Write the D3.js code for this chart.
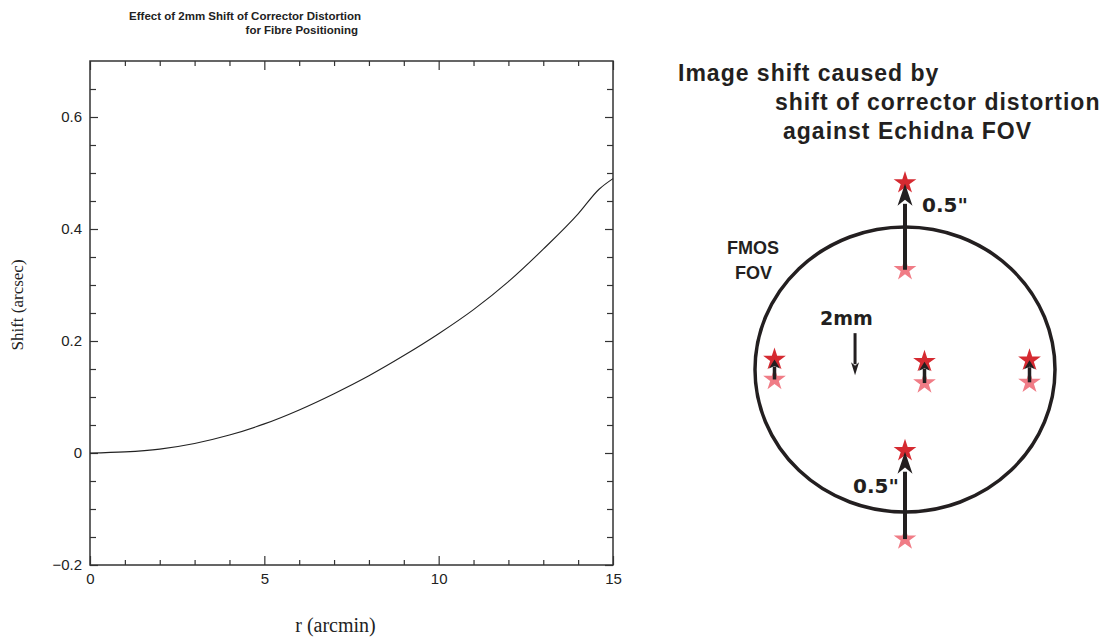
<!DOCTYPE html>
<html>
<head>
<meta charset="utf-8">
<script src="https://cdn.jsdelivr.net/npm/d3@7"></script>
<style>
  body { margin: 0; background: #fff; }
  .tick text { font-family: "Liberation Sans", Arial, sans-serif; font-size: 15px; fill: #222; }
  .tick line { stroke: #333; stroke-width: 1.2; }
  .axisText { font-family: "Liberation Serif", "Times New Roman", serif; fill: #222; }
  .plotTitle { font-family: "Liberation Sans", Arial, sans-serif; font-size: 11.5px; font-weight: bold; fill: #222; }
  .diagText { font-family: "DejaVu Sans", sans-serif; font-weight: bold; fill: #231f20; }
  .diagTitle { font-family: "Liberation Sans", Arial, sans-serif; font-weight: bold; font-size: 23px; letter-spacing: 1px; fill: #231f20; }
</style>
</head>
<body>
<div id="chart"></div>
<script>
// curve: shift (arcsec) vs r (arcmin)
var rValues = [0, 1, 2, 3, 4, 5, 6, 7, 8, 9, 10, 11, 12, 13, 14, 14.6, 15];
var shiftValues = [0, 0.002, 0.007, 0.017, 0.032, 0.052, 0.077, 0.106, 0.138, 0.174, 0.213, 0.256, 0.306, 0.364, 0.427, 0.471, 0.490];
var xMajorTicks = [0, 5, 10, 15];
var yMajorTicks = [-0.2, 0, 0.2, 0.4, 0.6];

// diagram: fibre positions in FOV units (circle radius = 1), and the image shift
var starNames = ["top", "left", "centre", "right", "bottom"];
var starX = [0, -0.87, 0.13, 0.83, 0];
var starY = [0.70, -0.07, -0.095, -0.09, -1.19];
var starShift = [0.61, 0.14, 0.15, 0.155, 0.62];
var corrShiftX = [-0.333];
var corrShiftY = [0.255, -0.04];

var svgWidth = 1105;
var svgHeight = 637;

var margin = {
  top: 61,
  left: 90
};
var width = 523;
var height = 504;

var svg = d3.select("#chart")
  .append("svg")
  .attr("width", svgWidth)
  .attr("height", svgHeight);

var chartGroup = svg.append("g")
  .attr("transform", `translate(${margin.left}, ${margin.top})`);

var xScale = d3.scaleLinear().domain([0, 15]).range([0, width]);
var yScale = d3.scaleLinear().domain([-0.2, 0.7]).range([height, 0]);

var xMinor = d3.range(0, 16, 1).filter(d => xMajorTicks.indexOf(d) < 0);
var yMinor = d3.range(-0.2, 0.7, 0.05).map(d => +d.toFixed(2)).filter(d => yMajorTicks.indexOf(d) < 0);

function noDomain(g) { g.select(".domain").remove(); }

// bottom axis, ticks pointing in
chartGroup.append("g")
  .attr("transform", `translate(0, ${height})`)
  .call(d3.axisBottom(xScale).tickValues(xMajorTicks).tickSizeInner(-9).tickSizeOuter(0).tickPadding(8).tickFormat(d3.format("d")))
  .call(noDomain);
chartGroup.append("g")
  .attr("transform", `translate(0, ${height})`)
  .call(d3.axisBottom(xScale).tickValues(xMinor).tickSizeInner(-5).tickSizeOuter(0).tickFormat(""))
  .call(noDomain);
// top axis
chartGroup.append("g")
  .call(d3.axisBottom(xScale).tickValues(xMajorTicks).tickSizeInner(9).tickSizeOuter(0).tickFormat(""))
  .call(noDomain);
chartGroup.append("g")
  .call(d3.axisBottom(xScale).tickValues(xMinor).tickSizeInner(5).tickSizeOuter(0).tickFormat(""))
  .call(noDomain);

// left axis
chartGroup.append("g")
  .call(d3.axisLeft(yScale).tickValues(yMajorTicks).tickSizeInner(-8).tickSizeOuter(0).tickPadding(8)
    .tickFormat(d => d === 0 ? "0" : d3.format(".1f")(d).replace("-", "\u2212")))
  .call(noDomain);
chartGroup.append("g")
  .call(d3.axisLeft(yScale).tickValues(yMinor).tickSizeInner(-6).tickSizeOuter(0).tickFormat(""))
  .call(noDomain);
// right axis
chartGroup.append("g")
  .attr("transform", `translate(${width}, 0)`)
  .call(d3.axisLeft(yScale).tickValues(yMajorTicks).tickSizeInner(8).tickSizeOuter(0).tickFormat(""))
  .call(noDomain);
chartGroup.append("g")
  .attr("transform", `translate(${width}, 0)`)
  .call(d3.axisLeft(yScale).tickValues(yMinor).tickSizeInner(6).tickSizeOuter(0).tickFormat(""))
  .call(noDomain);

// frame
chartGroup.append("rect")
  .attr("width", width)
  .attr("height", height)
  .attr("fill", "none")
  .attr("stroke", "#333")
  .attr("stroke-width", 1.5);

// the curve
var line = d3.line()
  .x((d, i) => xScale(rValues[i]))
  .y(d => yScale(d))
  .curve(d3.curveMonotoneX);

chartGroup.append("path")
  .attr("d", line(shiftValues))
  .attr("fill", "none")
  .attr("stroke", "#222")
  .attr("stroke-width", 1.1);

// labels
chartGroup.append("text")
  .attr("class", "axisText")
  .attr("text-anchor", "middle")
  .style("font-size", "20px")
  .attr("x", width / 2 - 16)
  .attr("y", height + 67)
  .text("r (arcmin)");

chartGroup.append("text")
  .attr("class", "axisText")
  .attr("text-anchor", "middle")
  .style("font-size", "17px")
  .attr("transform", `translate(${-67}, ${height / 2 - 8}) rotate(-90)`)
  .text("Shift (arcsec)");

svg.append("text")
  .attr("class", "plotTitle")
  .attr("text-anchor", "end")
  .attr("x", 361)
  .attr("y", 20)
  .text("Effect of 2mm Shift of Corrector Distortion");
svg.append("text")
  .attr("class", "plotTitle")
  .attr("text-anchor", "end")
  .attr("x", 358)
  .attr("y", 34)
  .text("for Fibre Positioning");

// ---- right-hand diagram ----
var fx = d3.scaleLinear().domain([-1, 1]).range([755, 1055]);
var fy = d3.scaleLinear().domain([-1, 1]).range([512, 227]);

var diag = svg.append("g");

diag.append("ellipse")
  .attr("cx", fx(0))
  .attr("cy", fy(0))
  .attr("rx", fx(1) - fx(0))
  .attr("ry", fy(-1) - fy(0))
  .attr("fill", "none")
  .attr("stroke", "#231f20")
  .attr("stroke-width", 3.5);

var star = d3.symbol().type(d3.symbolStar).size(160);

diag.selectAll(".starBefore")
  .data(starNames)
  .enter()
  .append("path")
  .attr("class", "starBefore")
  .attr("d", star)
  .attr("transform", (d, i) => `translate(${fx(starX[i])}, ${fy(starY[i])})`)
  .attr("fill", "#f07c86");

diag.selectAll(".starAfter")
  .data(starNames)
  .enter()
  .append("path")
  .attr("class", "starAfter")
  .attr("d", star)
  .attr("transform", (d, i) => `translate(${fx(starX[i])}, ${fy(starY[i] + starShift[i])})`)
  .attr("fill", "#d52a31");

function arrow(x, y0, y1, headLen, headW, shaftW) {
  var dir = y1 < y0 ? -1 : 1;
  var base = y1 - dir * headLen;
  diag.append("line")
    .attr("x1", x).attr("y1", y0)
    .attr("x2", x).attr("y2", base + dir * 2)
    .attr("stroke", "#231f20")
    .attr("stroke-width", shaftW);
  var notch = y1 - dir * headLen * 0.72;
  diag.append("path")
    .attr("d", `M${x},${y1} L${x - headW / 2},${base} L${x},${notch} L${x + headW / 2},${base} Z`)
    .attr("fill", "#231f20");
}

starNames.forEach(function(d, i) {
  var x = fx(starX[i]);
  var y0 = fy(starY[i]);
  var y1 = fy(starY[i] + starShift[i]);
  var big = Math.abs(y1 - y0) > 40;
  arrow(x, y0, y1 + (big ? 1 : 0), big ? 22 : 9, big ? 15 : 11, big ? 4 : 3.5);
});

arrow(fx(corrShiftX[0]), fy(corrShiftY[0]), fy(corrShiftY[1]), 13, 8, 3);

function diagText(txt, x, y, size, family) {
  var t = diag.append("text")
    .attr("class", "diagText")
    .attr("x", x)
    .attr("y", y)
    .style("font-size", size + "px")
    .text(txt);
  if (family) t.style("font-family", family);
}

var titleLines = ["Image shift caused by", "shift of corrector distortion", "against Echidna FOV"];
var titleX = [678, 775, 783];
diag.selectAll(".diagTitle")
  .data(titleLines)
  .enter()
  .append("text")
  .attr("class", "diagTitle")
  .attr("x", (d, i) => titleX[i])
  .attr("y", (d, i) => 81 + i * 29)
  .text(d => d);

diagText("0.5\"", 922, 212, 20);
diagText("0.5\"", 853, 493, 20);
diagText("2mm", 820, 325, 19);
diagText("FMOS", 727, 254, 18, "Liberation Sans, Arial, sans-serif");
diagText("FOV", 735, 279, 18, "Liberation Sans, Arial, sans-serif");
</script>
</body>
</html>
